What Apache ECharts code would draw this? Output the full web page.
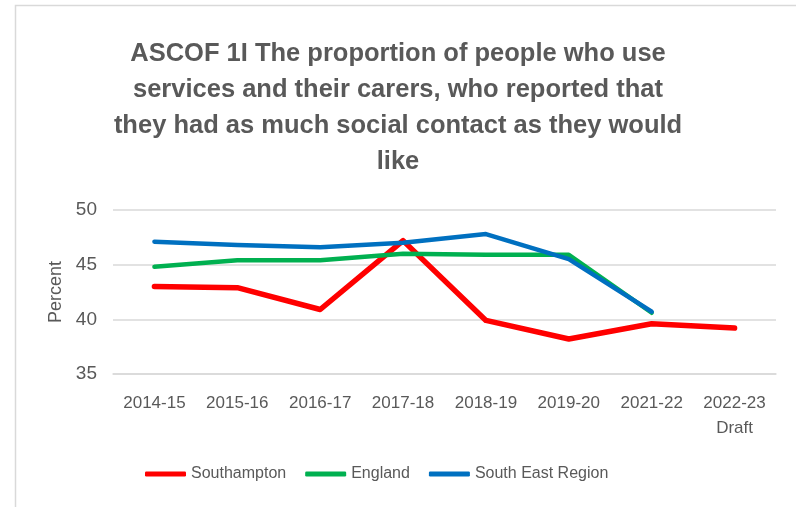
<!DOCTYPE html>
<html>
<head>
<meta charset="utf-8">
<script src="https://cdn.jsdelivr.net/npm/echarts@6/dist/echarts.min.js"></script>
<style>
  html, body { margin: 0; padding: 0; background: #ffffff; }
  #chart { width: 796px; height: 507px; }
</style>
</head>
<body>
<div id="chart"></div>
<script>
// Financial years on the category axis
const years = ['2014-15', '2015-16', '2016-17', '2017-18', '2018-19', '2019-20', '2021-22', '2022-23\nDraft'];

// Percentage of people reporting as much social contact as they would like
const southampton = [43.0, 42.9, 40.9, 47.2, 39.9, 38.2, 39.6, 39.2];
const england = [44.8, 45.4, 45.4, 46.0, 45.9, 45.9, 40.6, null];
const southEast = [47.1, 46.8, 46.6, 47.0, 47.8, 45.5, 40.7, null];

const yTicks = { min: 35, max: 50, step: 5 };

const textColor = '#595959';
const gridColor = '#d9d9d9';
const font = '"Liberation Sans", Arial, sans-serif';

const chart = echarts.init(document.getElementById('chart'));

function lineSeries(name, data, color, width) {
  return {
    name: name,
    type: 'line',
    data: data,
    symbol: 'none',
    smooth: false,
    connectNulls: false,
    lineStyle: { color: color, width: width, cap: 'round', join: 'round' },
    itemStyle: { color: color },
    emphasis: { disabled: true }
  };
}

chart.setOption({
  animation: false,
  backgroundColor: '#ffffff',
  graphic: [{
    type: 'rect',
    left: 13, top: 3,
    shape: { width: 800, height: 503 },
    style: { fill: 'none', stroke: '#d9d9d9', lineWidth: 1.5 },
    silent: true,
    z: -1
  }],
  title: {
    text: 'ASCOF 1I The proportion of people who use\nservices and their carers, who reported that\nthey had as much social contact as they would\nlike',
    left: 'center',
    top: 31,
    textStyle: {
      color: textColor,
      fontFamily: font,
      fontWeight: 'bold',
      fontSize: 25.5,
      lineHeight: 36
    }
  },
  legend: {
    left: 140,
    top: 461,
    itemWidth: 41,
    itemHeight: 5,
    itemGap: 19,
    icon: 'roundRect',
    textStyle: { color: textColor, fontFamily: font, fontSize: 16 },
    data: ['Southampton', 'England', 'South East Region']
  },
  grid: { left: 113, right: 20, top: 210, bottom: 133 },
  xAxis: {
    type: 'category',
    data: years,
    boundaryGap: true,
    axisLine: { show: true, lineStyle: { color: gridColor, width: 1.5 } },
    axisTick: { show: false },
    axisLabel: {
      color: textColor,
      fontFamily: font,
      fontSize: 17,
      lineHeight: 25,
      margin: 17,
      interval: 0
    }
  },
  yAxis: {
    type: 'value',
    min: yTicks.min,
    max: yTicks.max,
    interval: yTicks.step,
    name: 'Percent',
    nameLocation: 'middle',
    nameGap: 40,
    nameRotate: 90,
    nameTextStyle: { color: textColor, fontFamily: font, fontSize: 18 },
    axisLine: { show: false },
    axisTick: { show: false },
    axisLabel: { color: textColor, fontFamily: font, fontSize: 19, margin: 16 },
    splitLine: { lineStyle: { color: gridColor, width: 1.5 } }
  },
  series: [
    lineSeries('Southampton', southampton, '#ff0000', 5.5),
    lineSeries('England', england, '#00b050', 4.5),
    lineSeries('South East Region', southEast, '#0070c0', 4.5)
  ]
});
</script>
</body>
</html>
